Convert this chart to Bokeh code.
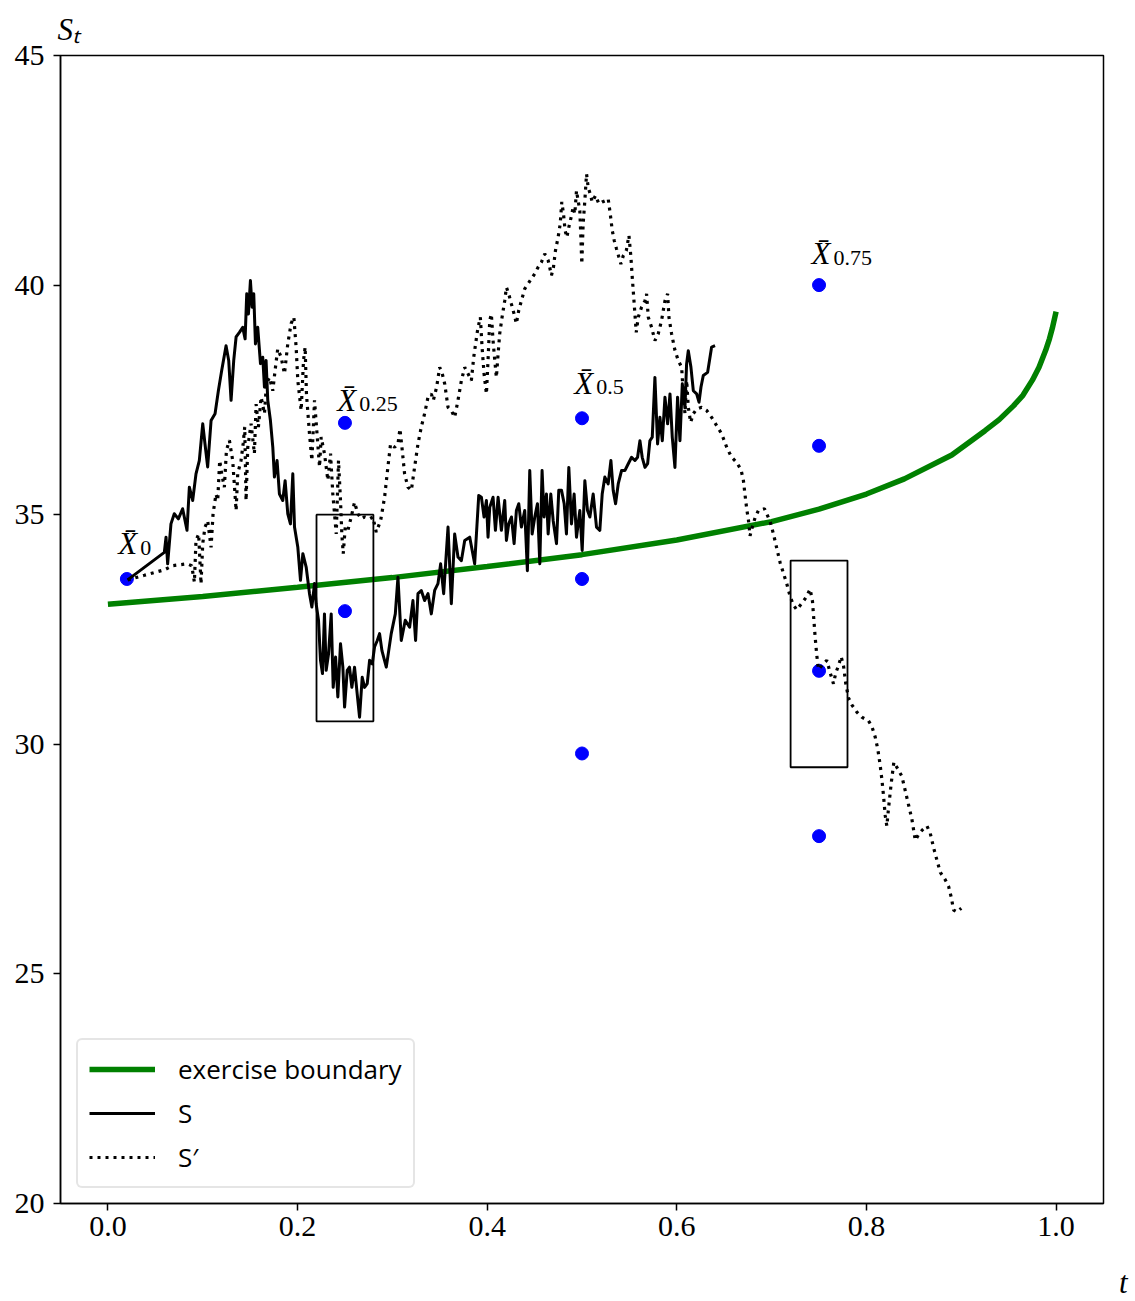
from bokeh.plotting import figure
from bokeh.models import Range1d, FixedTicker, PrintfTickFormatter, Legend, LegendItem, Title, LinearAxis
from bokeh.embed import file_html
from bokeh.resources import INLINE
from bokeh.core.properties import value

# ---------------- data ----------------
boundary_t = [0.00, 0.10, 0.20, 0.30, 0.40, 0.50, 0.60, 0.70, 0.75, 0.80, 0.84, 0.89,
              0.925, 0.94, 0.955, 0.965, 0.975, 0.982, 0.989, 0.993, 0.996, 1.00]
boundary_v = [33.05, 33.22, 33.42, 33.63, 33.87, 34.13, 34.45, 34.85, 35.12, 35.45, 35.78, 36.30,
              36.83, 37.07, 37.37, 37.60, 37.93, 38.21, 38.58, 38.83, 39.06, 39.42]

s_t = [0.0208, 0.0595, 0.0613, 0.0630, 0.0665, 0.0700, 0.0743, 0.0788, 0.0834, 0.0859,
       0.0894, 0.0929, 0.0964, 0.1000, 0.1024, 0.1052, 0.1088, 0.1130, 0.1165, 0.1200,
       0.1246, 0.1274, 0.1299, 0.1327, 0.1352, 0.1387, 0.1422, 0.1447, 0.1464, 0.1482,
       0.1503, 0.1521, 0.1538, 0.1556, 0.1580, 0.1609, 0.1633, 0.1651, 0.1668, 0.1686,
       0.1714, 0.1739, 0.1756, 0.1784, 0.1809, 0.1844, 0.1869, 0.1897, 0.1925, 0.1950,
       0.1968, 0.2003, 0.2031, 0.2056, 0.2091, 0.2126, 0.2151,
       0.2179, 0.2196, 0.2221, 0.2242, 0.2263, 0.2284, 0.2302, 0.2327, 0.2355, 0.2376,
       0.2401, 0.2425, 0.2453, 0.2478, 0.2496, 0.2524, 0.2548, 0.2573, 0.2601, 0.2629,
       0.2654, 0.2682, 0.2707, 0.2735, 0.2760, 0.2788, 0.2812, 0.2841, 0.2865, 0.2890,
       0.2936, 0.2988, 0.3031, 0.3059, 0.3094, 0.3136, 0.3182, 0.3217, 0.3245, 0.3270,
       0.3305, 0.3340, 0.3376, 0.3411, 0.3446, 0.3481, 0.3509, 0.3541, 0.3587, 0.3622,
       0.3657, 0.3692, 0.3728, 0.3763, 0.3816, 0.3868,
       0.3911, 0.3939, 0.3967, 0.3992, 0.4009, 0.4027, 0.4062, 0.4087, 0.4115, 0.4150,
       0.4185, 0.4203, 0.4227, 0.4256, 0.4284, 0.4308, 0.4333, 0.4361, 0.4396, 0.4424,
       0.4449, 0.4474, 0.4502, 0.4530, 0.4555, 0.4579, 0.4600, 0.4625, 0.4643, 0.4671,
       0.4696, 0.4731, 0.4755, 0.4784, 0.4812, 0.4836, 0.4861, 0.4889, 0.4917, 0.4942,
       0.4977, 0.5002, 0.5030, 0.5058, 0.5083, 0.5118, 0.5153, 0.5188, 0.5213, 0.5241,
       0.5276, 0.5305, 0.5329, 0.5354, 0.5382, 0.5417, 0.5452, 0.5488, 0.5523, 0.5558,
       0.5586, 0.5611, 0.5635, 0.5664, 0.5692, 0.5716, 0.5741, 0.5769, 0.5797, 0.5822,
       0.5847, 0.5875, 0.5903, 0.5928, 0.5952, 0.5980, 0.6008, 0.6033, 0.6058, 0.6086,
       0.6103, 0.6121, 0.6149, 0.6174, 0.6209, 0.6234, 0.6255, 0.6279, 0.6325, 0.6367,
       0.6403]
s_v = [33.58, 34.18, 34.51, 33.93, 34.80, 35.02, 34.91, 35.13, 34.66, 35.60,
       35.31, 35.89, 36.18, 36.98, 36.54, 36.04, 37.05, 37.20, 37.70, 38.14,
       38.68, 38.36, 37.49, 38.36, 38.87, 38.97, 39.08, 38.83, 39.81, 39.37,
       40.10, 39.52, 39.81, 38.72, 39.08, 38.29, 38.43, 37.78, 38.36, 37.49,
       37.05, 36.47, 35.82, 36.18, 35.45, 35.31, 35.74, 35.02, 34.80, 35.89,
       34.73, 34.29, 33.57, 34.15, 33.86, 33.28, 32.99,
       33.50, 33.06, 32.70, 31.83, 31.54, 32.84, 31.61, 31.97, 32.84, 31.24,
       31.90, 31.03, 32.19, 31.68, 30.81, 31.61, 31.68, 31.24, 31.68, 31.10,
       30.59, 31.46, 31.24, 31.32, 31.83, 31.75, 32.12, 32.26, 32.41, 32.04,
       31.68, 32.41, 32.84, 33.64, 32.26, 32.70, 32.55, 33.13, 32.26, 33.28,
       33.35, 33.13, 33.28, 32.84, 33.35, 33.50, 33.93, 33.28, 34.73, 33.06,
       34.58, 34.08, 34.00, 34.44, 34.51, 33.93,
       35.42, 35.38, 34.95, 35.31, 34.51, 35.16, 35.38, 34.66, 35.38, 34.66,
       35.31, 34.44, 34.80, 34.95, 34.37, 35.09, 35.24, 34.73, 35.09, 33.78,
       35.96, 34.58, 34.95, 35.24, 33.93, 35.96, 34.95, 35.45, 34.58, 35.45,
       34.87, 34.37, 35.53, 35.53, 35.24, 34.58, 36.03, 34.80, 35.45, 34.51,
       35.09, 34.22, 35.74, 35.09, 34.95, 35.45, 34.73, 34.66, 35.45, 35.82,
       35.67, 36.18, 35.53, 35.24, 35.67, 35.96, 35.96, 36.11, 36.25, 36.18,
       36.25, 36.61, 36.25, 36.03, 36.11, 36.61, 36.69, 37.99, 36.54, 37.12,
       36.61, 37.56, 36.98, 37.63, 36.69, 36.03, 37.56, 36.61, 37.85, 37.34,
       38.28, 38.57, 38.21, 37.70, 37.63, 37.45, 37.78, 38.03, 38.10, 38.65,
       38.68]

sp_t = [0.0208, 0.0384, 0.0595, 0.0683, 0.0834, 0.0884, 0.0912, 0.0929, 0.0957, 0.0982,
        0.1000, 0.1024, 0.1052, 0.1088, 0.1109, 0.1140, 0.1158, 0.1179, 0.1200, 0.1228,
        0.1250, 0.1281, 0.1316, 0.1352, 0.1369, 0.1404, 0.1426, 0.1443, 0.1457, 0.1475,
        0.1510, 0.1545, 0.1563, 0.1587, 0.1616, 0.1651, 0.1672, 0.1704, 0.1739, 0.1763,
        0.1791, 0.1827, 0.1862, 0.1897, 0.1932, 0.1961, 0.1985, 0.2003, 0.2038, 0.2063,
        0.2080, 0.2094, 0.2126, 0.2151, 0.2179, 0.2200, 0.2232, 0.2249, 0.2284, 0.2320,
        0.2348, 0.2372, 0.2390, 0.2408, 0.2432, 0.2453,
        0.2467, 0.2482, 0.2503, 0.2531, 0.2566, 0.2601, 0.2636, 0.2672, 0.2707, 0.2760,
        0.2795, 0.2830, 0.2876, 0.2918, 0.2953, 0.2981, 0.3024, 0.3059, 0.3080, 0.3101,
        0.3129, 0.3164, 0.3200, 0.3235, 0.3270, 0.3305, 0.3340, 0.3376, 0.3411, 0.3432,
        0.3467, 0.3499, 0.3523, 0.3552, 0.3587, 0.3622, 0.3657, 0.3692, 0.3728, 0.3763,
        0.3798, 0.3833, 0.3858, 0.3893,
        0.3904, 0.3928, 0.3946, 0.3967, 0.3992, 0.4009, 0.4027, 0.4044, 0.4062, 0.4080,
        0.4097, 0.4115, 0.4132, 0.4157, 0.4185, 0.4203, 0.4227, 0.4255, 0.4284, 0.4308,
        0.4333, 0.4361, 0.4396, 0.4432, 0.4467, 0.4502, 0.4537, 0.4572, 0.4607, 0.4643,
        0.4678, 0.4699, 0.4720, 0.4748, 0.4770, 0.4787, 0.4805, 0.4822, 0.4840, 0.4861,
        0.4889, 0.4907, 0.4924, 0.4942, 0.4959, 0.4977, 0.4988, 0.4998, 0.5012, 0.5030,
        0.5048, 0.5065, 0.5086, 0.5108, 0.5143, 0.5178, 0.5213, 0.5248, 0.5276, 0.5298,
        0.5319, 0.5340, 0.5364, 0.5389, 0.5410, 0.5435, 0.5467, 0.5495, 0.5516, 0.5530,
        0.5548, 0.5572, 0.5593, 0.5628, 0.5664, 0.5681, 0.5699, 0.5734, 0.5769, 0.5804,
        0.5839, 0.5875, 0.5903, 0.5917, 0.5945, 0.5980, 0.6015, 0.6051, 0.6068, 0.6086,
        0.6104, 0.6121, 0.6146, 0.6174, 0.6209, 0.6262, 0.6315, 0.6367, 0.6420, 0.6473,
        0.6526, 0.6561,
        0.6579, 0.6631, 0.6677, 0.6702, 0.6719, 0.6737, 0.6755, 0.6772, 0.6797, 0.6825,
        0.6860, 0.6924, 0.6959, 0.6983, 0.7019, 0.7054, 0.7089, 0.7124, 0.7159, 0.7195,
        0.7230, 0.7265, 0.7318, 0.7360, 0.7406, 0.7431, 0.7445, 0.7459, 0.7476, 0.7494,
        0.7529, 0.7582, 0.7617, 0.7652, 0.7677, 0.7705, 0.7733, 0.7758, 0.7782, 0.7811,
        0.7846, 0.7899, 0.7951, 0.8022, 0.8057, 0.8092, 0.8120, 0.8145, 0.8163, 0.8180,
        0.8198, 0.8215, 0.8233, 0.8261, 0.8289, 0.8332, 0.8374, 0.8409, 0.8444, 0.8479,
        0.8515, 0.8557, 0.8592, 0.8638, 0.8673, 0.8708, 0.8743, 0.8779, 0.8831, 0.8867,
        0.8895, 0.8919, 0.8955, 0.9000]
sp_v = [33.58, 33.68, 33.80, 33.89, 33.93, 33.89, 33.53, 34.44, 34.58, 33.49,
        34.37, 34.73, 34.87, 34.29, 35.02, 35.45, 35.31, 36.18, 35.89, 35.60,
        36.40, 36.62, 36.18, 35.09, 35.89, 36.18, 36.54, 36.91, 35.31, 36.47,
        36.98, 36.33, 37.41, 36.91, 37.56, 37.20, 37.85, 37.99, 37.70, 38.14,
        38.61, 38.43, 38.07, 38.72, 39.16, 39.30, 38.65, 37.92, 37.27, 38.36,
        38.65, 37.63, 36.76, 36.18, 37.49, 36.91, 36.04, 36.69, 36.33, 35.75,
        36.33, 35.45, 35.02, 34.58, 36.18, 35.31,
        34.58, 34.15, 34.73, 34.66, 34.95, 35.27, 35.02, 34.91, 34.95, 34.91,
        34.95, 34.62, 34.87, 35.38, 36.04, 36.54, 36.47, 36.54, 36.87, 36.47,
        35.89, 35.60, 35.53, 36.04, 36.54, 36.91, 37.20, 37.56, 37.63, 37.49,
        37.78, 38.21, 38.10, 37.85, 37.34, 37.27, 37.12, 37.49, 37.92, 38.21,
        38.07, 37.92, 38.43, 38.94,
        39.08, 39.30, 38.65, 38.07, 37.63, 38.36, 39.23, 39.37, 38.79, 38.36,
        37.99, 38.50, 38.94, 39.30, 39.66, 39.95, 39.81, 39.59, 39.37, 39.16,
        39.45, 39.66, 39.92, 40.03, 40.14, 40.25, 40.39, 40.50, 40.68, 40.54,
        40.21, 40.39, 40.75, 41.04, 41.33, 41.81, 41.55, 41.19, 41.04, 41.26,
        41.51, 41.70, 41.55, 42.06, 41.84, 41.62, 41.04, 40.46, 41.33, 41.84,
        42.42, 42.13, 41.99, 41.81, 41.95, 41.77, 41.81, 41.84, 41.88, 41.55,
        41.19, 40.97, 40.79, 40.61, 40.46, 40.64, 40.75, 41.08, 40.61, 40.17,
        39.66, 38.97, 39.30, 39.52, 39.66, 39.81, 39.30, 39.08, 38.79, 38.94,
        39.23, 39.66, 39.81, 39.30, 38.94, 38.58, 38.36, 38.21, 37.63, 37.20,
        37.92, 37.34, 37.01, 37.20, 37.30, 37.34, 37.27, 37.12, 36.94, 36.76,
        36.47, 36.32,
        36.25, 36.14, 35.98, 35.75, 35.44, 35.13, 34.89, 34.54, 34.74, 34.93,
        35.09, 35.13, 34.97, 34.86, 34.58, 34.27, 33.96, 33.73, 33.50, 33.22,
        33.03, 32.93, 33.07, 33.19, 33.38, 33.11, 32.72, 32.33, 31.94, 31.63,
        31.71, 31.83, 31.56, 31.32, 31.56, 31.71, 31.91, 31.71, 31.32, 31.01,
        30.86, 30.70, 30.59, 30.51, 30.39, 30.16, 29.89, 29.54, 29.23, 28.88,
        28.45, 28.22, 28.61, 29.15, 29.61, 29.46, 29.30, 28.99, 28.68, 28.37,
        27.91, 28.06, 28.14, 28.22, 28.06, 27.75, 27.48, 27.21, 27.05, 26.90,
        26.66, 26.39, 26.35, 26.43]

dot_t = [0.02, 0.25, 0.25, 0.5, 0.5, 0.5, 0.75, 0.75, 0.75, 0.75]
dot_v = [33.6, 37.0, 32.9, 37.1, 33.6, 29.8, 40.0, 36.5, 31.6, 28.0]

box_left = [0.22, 0.72]
box_right = [0.28, 0.78]
box_bottom = [30.5, 29.5]
box_top = [35.0, 34.0]

label_t = [0.0109, 0.2418, 0.4917, 0.742]
label_v = [34.37, 37.49, 37.86, 40.68]
label_sub = ["0", "0.25", "0.5", "0.75"]

x_ticks = [0.0, 0.2, 0.4, 0.6, 0.8, 1.0]
y_ticks = [20, 25, 30, 35, 40, 45]

# ---------------- figure ----------------
SERIF = "Liberation Serif"

p = figure(frame_width=1043, frame_height=1148,
           x_range=Range1d(-0.05, 1.05), y_range=Range1d(20, 45),
           output_backend="svg", toolbar_location=None,
           min_border_left=60, min_border_right=28, min_border_top=55, min_border_bottom=60)
p.xgrid.visible = False
p.ygrid.visible = False
p.outline_line_color = "black"
p.outline_line_width = 1.5
p.outline_line_alpha = 1.0
p.background_fill_color = "white"
p.border_fill_color = "white"

p.xaxis.ticker = FixedTicker(ticks=x_ticks)
p.yaxis.ticker = FixedTicker(ticks=y_ticks)
p.xaxis.formatter = PrintfTickFormatter(format="%.1f")
p.yaxis.formatter = PrintfTickFormatter(format="%d")
for ax in (p.xaxis, p.yaxis):
    ax.axis_line_color = "black"
    ax.axis_line_width = 1.5
    ax.major_tick_line_color = "black"
    ax.major_tick_line_width = 1.5
    ax.major_tick_out = 7
    ax.major_tick_in = 0
    ax.minor_tick_line_color = None
    ax.major_label_text_font = SERIF
    ax.major_label_text_font_size = "30px"
    ax.major_label_text_color = "black"
p.xaxis.major_label_standoff = 6
p.yaxis.major_label_standoff = 9

# blank spacer axis below the x axis (white tick on white, no labels, no line);
# it only makes room so that the "t" title sits at the bottom edge
spacer = LinearAxis(ticker=FixedTicker(ticks=[0.5]), axis_line_color=None,
                    major_tick_line_color="white", minor_tick_line_color=None,
                    major_tick_out=24, major_tick_in=0, minor_tick_out=0,
                    major_label_text_color=None, major_label_standoff=0)
p.add_layout(spacer, "below")

# blue dots
p.scatter(dot_t, dot_v, size=13, color="#0000ff", line_color="#0000ff")

# exercise boundary
g = p.line(boundary_t, boundary_v, line_color="green", line_width=5.5)
# path S
s = p.line(s_t, s_v, line_color="black", line_width=3, line_join="round")
# path S'
sp = p.line(sp_t, sp_v, line_color="black", line_width=3.2, line_dash="3 5")

# boxes
p.quad(left=box_left, right=box_right, bottom=box_bottom, top=box_top,
       fill_alpha=0, line_color="black", line_width=1.8)

# X-bar labels
p.text(x=label_t, y=label_v, text=["X\u0304"] * len(label_t), text_font=value(SERIF),
       text_font_style="italic", text_font_size="31px", text_color="black",
       text_baseline="alphabetic", text_align="left")
p.text(x=label_t, y=label_v, text=label_sub, x_offset=22, y_offset=4, text_font=value(SERIF),
       text_font_size="22px", text_color="black", text_baseline="alphabetic", text_align="left")

# axis labels S_t (top-left) and t (bottom-right)
p.add_layout(Title(text="S\u209c", align="left", offset=-3, standoff=18,
                   text_font=SERIF, text_font_style="italic", text_font_size="31px",
                   text_color="black"), "above")
p.add_layout(Title(text="t", align="right", offset=-24, standoff=0,
                   text_font=SERIF, text_font_style="italic", text_font_size="31px",
                   text_color="black"), "below")

legend = Legend(items=[LegendItem(label="exercise boundary", renderers=[g]),
                       LegendItem(label="S", renderers=[s]),
                       LegendItem(label="S\u2032", renderers=[sp])],
                location=(16, 15))
legend.label_text_font = "Open Sans"
legend.label_text_font_size = "26px"
legend.label_text_color = "black"
legend.glyph_width = 66
legend.glyph_height = 30
legend.label_height = 30
legend.label_standoff = 23
legend.spacing = 8
legend.padding = 11
legend.margin = 0
legend.border_line_color = "#cccccc"
legend.border_line_width = 2
legend.background_fill_alpha = 0.85
if "border_radius" in legend.properties():
    legend.border_radius = 6
p.add_layout(legend)

open("out.html", "w").write(file_html(p, INLINE))
